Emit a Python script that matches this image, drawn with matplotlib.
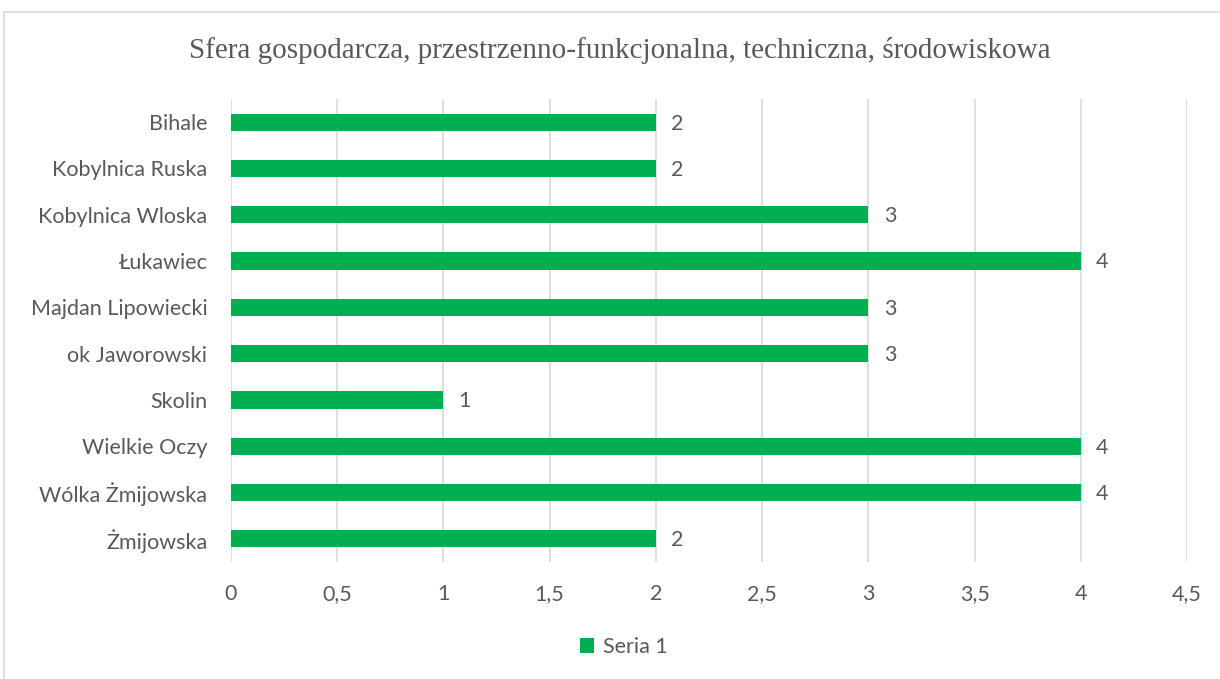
import matplotlib

matplotlib.use('Agg')

import matplotlib.pyplot as plt
from matplotlib.patches import Rectangle

categories = ['Bihale', 'Kobylnica Ruska', 'Kobylnica Wloska', 'Łukawiec',
              'Majdan Lipowiecki', 'ok Jaworowski', 'Skolin', 'Wielkie Oczy',
              'Wólka Żmijowska', 'Żmijowska']
values = [2, 2, 3, 4, 3, 3, 1, 4, 4, 2]
xticks = [0, 0.5, 1, 1.5, 2, 2.5, 3, 3.5, 4, 4.5]
xtick_labels = ['0', '0,5', '1', '1,5', '2', '2,5', '3', '3,5', '4', '4,5']
series_name = 'Seria 1'
title = 'Sfera gospodarcza, przestrzenno-funkcjonalna, techniczna, środowiskowa'

green = '#00B050'
text_col = '#595959'
grid_col = '#d9d9d9'
sans = ['Lato', 'DejaVu Sans']
fs = 15.5

fig = plt.figure(figsize=(12.2, 6.79), dpi=100)
fig.patches.append(Rectangle((4 / 1220, -0.1), 1.2, 1 - 12 / 679 + 0.1,
                             transform=fig.transFigure, fill=False,
                             edgecolor=grid_col, linewidth=1.2))

ax = fig.add_axes([231 / 1220, 1 - 562 / 679, (1187 - 231) / 1220, (562 - 99) / 679])
pos = list(range(len(categories)))
bars = ax.barh(pos, values, height=0.37, color=green, label=series_name, zorder=3)
ax.set_ylim(len(categories) - 0.5, -0.5)
ax.set_xlim(0, 4.5)
ax.set_yticks(pos)
ax.set_yticklabels(categories, fontfamily=sans, fontsize=fs, color=text_col)
ax.set_xticks(xticks)
ax.set_xticklabels(xtick_labels, fontfamily=sans, fontsize=fs, color=text_col)
ax.tick_params(length=0)
ax.tick_params(axis='y', pad=17)
ax.tick_params(axis='x', pad=16)
for s in ax.spines.values():
    s.set_visible(False)
ax.grid(axis='x', color=grid_col, linewidth=1.2, zorder=0)

for b, v in zip(bars, values):
    ax.annotate(str(v), (b.get_width(), b.get_y() + b.get_height() / 2),
                xytext=(11, -1), textcoords='offset points', va='center', ha='left',
                fontfamily=sans, fontsize=fs, color=text_col)

fig.text(620 / 1220, 1 - 50 / 679, title, ha='center', va='center',
         fontfamily='Liberation Serif', fontsize=21, color=text_col)

leg = fig.legend(loc='center', bbox_to_anchor=(624 / 1220, 1 - 647 / 679), frameon=False,
                 prop={'family': sans, 'size': fs}, handlelength=0.65, handleheight=0.65,
                 handletextpad=0.4)
for t in leg.get_texts():
    t.set_color(text_col)

fig.savefig('out.png', dpi=100)
